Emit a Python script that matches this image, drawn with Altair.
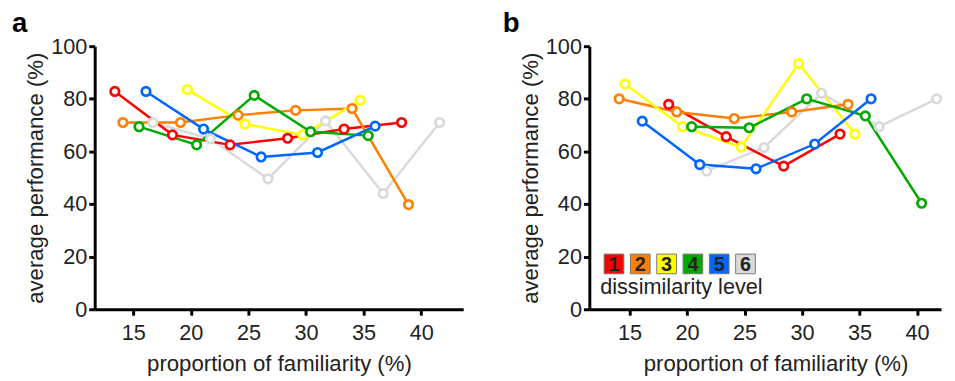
import altair as alt
import pandas as pd

levels = ["1", "2", "3", "4", "5", "6"]
colors = ["#FF0000", "#FF7F00", "#FFFF00", "#00AA00", "#0066FF", "#D9D9D9"]
x_ticks = [15, 20, 25, 30, 35, 40]
y_ticks = [0, 20, 40, 60, 80, 100]
legend_title = ["dissimilarity level"]
panel_letters = ["a", "b"]

# panel a
a1_x = [13.4, 18.4, 23.4, 28.4, 33.3, 38.3]
a1_y = [82.8, 66.3, 62.5, 65.0, 68.5, 71.0]
a2_x = [14.1, 19.1, 24.1, 29.1, 34.0, 38.9]
a2_y = [71.0, 71.0, 73.8, 75.6, 76.3, 39.8]
a3_x = [19.7, 24.7, 29.7, 34.7]
a3_y = [83.5, 70.4, 66.3, 79.4]
a4_x = [15.5, 20.5, 25.5, 30.4, 35.4]
a4_y = [69.4, 62.5, 81.3, 67.5, 66.0]
a5_x = [16.1, 21.1, 26.1, 31.0, 36.0]
a5_y = [82.8, 68.5, 57.9, 59.6, 69.6]
a6_x = [16.7, 21.7, 26.7, 31.7, 36.7, 41.6]
a6_y = [71.0, 64.8, 49.6, 71.6, 44.0, 71.0]

# panel b
b1_x = [18.4, 23.4, 28.4, 33.3]
b1_y = [77.9, 65.6, 54.4, 66.6]
b2_x = [14.1, 19.1, 24.1, 29.1, 34.0]
b2_y = [80.0, 75.0, 72.5, 75.0, 77.9]
b3_x = [14.6, 19.6, 24.7, 29.7, 34.6]
b3_y = [85.6, 69.4, 61.6, 93.4, 66.6]
b4_x = [20.4, 25.4, 30.4, 35.5, 40.4]
b4_y = [69.4, 69.0, 80.0, 73.5, 40.3]
b5_x = [16.1, 21.1, 26.0, 31.1, 36.0]
b5_y = [71.5, 55.0, 53.4, 62.8, 80.0]
b6_x = [21.7, 26.7, 31.7, 36.7, 41.7]
b6_y = [52.5, 61.5, 82.1, 69.4, 80.0]

FONT = "Liberation Sans"


def frame(series):
    rows = []
    order = [5, 0, 1, 2, 3, 4]  # grey at the bottom
    for k in order:
        xs, ys = series[k]
        for i, (xv, yv) in enumerate(zip(xs, ys)):
            rows.append({"level": levels[k], "x": xv, "y": yv, "i": i})
    return pd.DataFrame(rows)


df_a = frame([(a1_x, a1_y), (a2_x, a2_y), (a3_x, a3_y), (a4_x, a4_y), (a5_x, a5_y), (a6_x, a6_y)])
df_b = frame([(b1_x, b1_y), (b2_x, b2_y), (b3_x, b3_y), (b4_x, b4_y), (b5_x, b5_y), (b6_x, b6_y)])

cscale = alt.Scale(domain=levels, range=colors)
color = alt.Color("level:N", scale=cscale, legend=None)


def panel(df, letter, xdom, width, title_x, letter_dx, with_legend=False):
    xenc = alt.X("x:Q", scale=alt.Scale(domain=xdom, nice=False, zero=False),
                 axis=alt.Axis(values=x_ticks, title="proportion of familiarity (%)",
                               labelPadding=8, titlePadding=9, titleX=title_x))
    yenc = alt.Y("y:Q", scale=alt.Scale(domain=[0, 100], nice=False),
                 axis=alt.Axis(values=y_ticks, title="average performance (%)",
                               labelPadding=2, titlePadding=3))
    base = alt.Chart(df)
    lines = base.mark_line(strokeWidth=2.5).encode(
        x=xenc, y=yenc, color=color, detail="level:N", order="i:Q")
    pts = base.mark_point(filled=False, fill="white", fillOpacity=1, size=75, strokeWidth=2.7,
                          opacity=1).encode(
        x="x:Q", y="y:Q", stroke=alt.Stroke("level:N", scale=cscale, legend=None))
    ldf = pd.DataFrame({"t": [letter]})
    let = alt.Chart(ldf).mark_text(font=FONT, fontSize=28, fontWeight="bold", color="black",
                                   align="left", baseline="alphabetic").encode(
        x=alt.value(letter_dx), y=alt.value(-14), text="t:N")
    layers = [lines, pts, let]
    if with_legend:
        gdf = pd.DataFrame({"level": levels, "k": list(range(6))})
        lbase = alt.Chart(gdf).transform_calculate(
            lx="15 + datum.k * 26.7", lx2="35 + datum.k * 26.7", cx="25 + datum.k * 26.7")
        rects = lbase.mark_rect(stroke="#7a7a7a", strokeWidth=1).encode(
            x=alt.X("lx:Q", scale=None), x2="lx2:Q",
            y=alt.value(211), y2=alt.value(231), color=color)
        nums = lbase.mark_text(font=FONT, fontSize=20, fontWeight="bold", color="#222",
                               baseline="middle", align="center").encode(
            x=alt.X("cx:Q", scale=None), y=alt.value(222), text="level:N")
        tdf = pd.DataFrame({"t": legend_title})
        ttl = alt.Chart(tdf).mark_text(font=FONT, fontSize=22, color="#222", align="left",
                                       baseline="alphabetic").encode(
            x=alt.value(11), y=alt.value(252), text="t:N")
        layers += [rects, nums, ttl]
    return alt.layer(*layers).properties(width=width, height=267)


pa = panel(df_a, panel_letters[0], [11.65, 43.65], 374, 187, -84)
pb = panel(df_b, panel_letters[1], [11.5, 42.09], 357, 189, -88, with_legend=True)

chart = alt.hconcat(pa, pb, spacing=40).configure_view(stroke=None).configure_axis(
    grid=False, domainColor="black", domainWidth=3, tickColor="black", tickWidth=3,
    tickSize=6, labelColor="#222", labelFont=FONT, labelFontSize=22, titleFont=FONT,
    titleFontSize=22.5, titleFontWeight="normal", titleColor="#222"
).properties(padding={"left": 4, "top": 0, "right": 0, "bottom": 0}, background="white")

chart.save("out.html", embed_options={"renderer": "svg", "actions": False})
